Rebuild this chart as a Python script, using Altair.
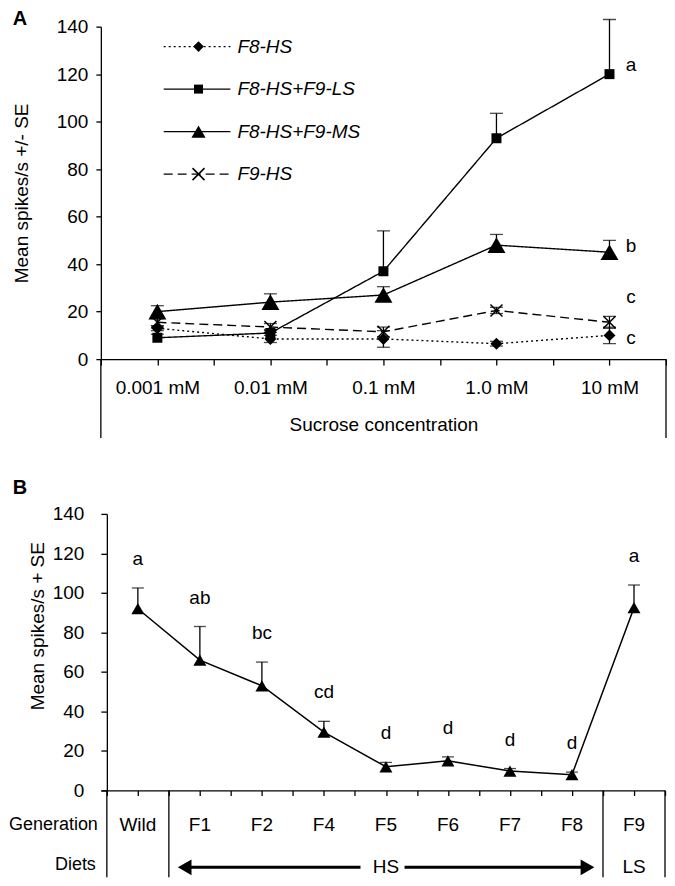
import json
import altair as alt
import pandas as pd

FONT = "Liberation Sans"
FONT_BOLD = "Liberation Sans"
FS = 19

# ---------------- Panel A data ----------------
conc_labels = ["0.001 mM", "0.01 mM", "0.1 mM", "1.0 mM", "10 mM"]
series_names = ["F8-HS", "F8-HS+F9-LS", "F8-HS+F9-MS", "F9-HS"]
f8hs_mean = [13, 8.5, 8.5, 6.5, 10]
f8hs_se = [1.0, 1.5, 3.5, 1.0, 3.5]
ls_mean = [9, 11, 37, 93, 120]
ls_se = [1.5, 1.5, 17, 10.5, 23]
ms_mean = [20, 24, 27, 48, 45]
ms_se = [2.5, 3.5, 3.5, 4.5, 5]
f9hs_mean = [15.5, 13.5, 11.5, 20.5, 15.5]
f9hs_se = [1.5, 1.5, 2.0, 1.3, 2.5]
two_sided_A = [True, False, False, True]
letters_A = ["a", "b", "c", "c"]
letters_A_y = [124, 47.5, 26, 9]

# ---------------- Panel B data ----------------
gens = ["Wild", "F1", "F2", "F4", "F5", "F6", "F7", "F8", "F9"]
mean_B = [92, 66, 53, 29.5, 12, 15, 9.8, 8, 92.5]
se_B = [10.5, 17, 12, 5.5, 2.2, 2.0, 1.3, 1.3, 11.5]
letters_B = ["a", "ab", "bc", "cd", "d", "d", "d", "d", "a"]
diets = ["", "HS", "HS", "HS", "HS", "HS", "HS", "HS", "LS"]

# ---------------- layout / style ----------------
WA, HA = 566, 333
WB, HB = 565, 277
B_SHIFT = 6  # px between B plot edge and its y axis
TABLE_H = 87

XPATH = "M-1,-1L1,1M-1,1L1,-1"
STYLE_A = {
    "F8-HS": dict(shape="diamond", filled=True, size=144, leg=115, dash=[2, 3]),
    "F8-HS+F9-LS": dict(shape="square", filled=True, size=100, leg=81, dash=[1, 0]),
    "F8-HS+F9-MS": dict(shape="triangle-up", filled=True, size=324, leg=200, dash=[1, 0]),
    "F9-HS": dict(shape=XPATH, filled=False, size=144, leg=144, dash=[9, 5]),
}

# ---------------- Panel A ----------------
rows = []
for s, m, e, ts in zip(series_names, [f8hs_mean, ls_mean, ms_mean, f9hs_mean],
                       [f8hs_se, ls_se, ms_se, f9hs_se], two_sided_A):
    for i in range(len(conc_labels)):
        rows.append({"series": s, "idx": i, "mean": m[i], "hi": m[i] + e[i],
                     "lo": m[i] - e[i] if ts else m[i], "two": ts})
dfA = pd.DataFrame(rows)

nA = len(conc_labels)
xA_scale = alt.Scale(domain=[-0.5, nA - 0.5], nice=False, zero=False)
xA_axis = alt.Axis(
    values=[-0.5 + 0.5 * k for k in range(2 * nA + 1)],
    labelExpr="datum.value % 1 === 0 ? " + json.dumps(conc_labels) + "[datum.value] : ''",
    tickSize=6, labelPadding=13, labelFlush=False, labelOverlap=False, labelBound=False,
    title="Sucrose concentration", titlePadding=18,
)
yA_scale = alt.Scale(domain=[0, 140], nice=False)
yA_axis = alt.Axis(values=list(range(0, 141, 20)), tickSize=5, labelPadding=8,
                   title="Mean spikes/s  +/- SE", titlePadding=25)


def xA(f):
    return alt.X(f + ":Q", scale=xA_scale, axis=xA_axis)


def yA(f):
    return alt.Y(f + ":Q", scale=yA_scale, axis=yA_axis)


layersA = []
for name in series_names:
    st = STYLE_A[name]
    layersA.append(
        alt.Chart(dfA).transform_filter(alt.datum.series == name)
        .mark_line(color="black", strokeWidth=1.4, strokeDash=st["dash"])
        .encode(x=xA("idx"), y=yA("mean"))
    )
layersA.append(alt.Chart(dfA).mark_rule(color="black", strokeWidth=1.3)
               .encode(x=xA("idx"), y=yA("lo"), y2=alt.Y2("hi")))
layersA.append(alt.Chart(dfA).mark_tick(color="black", orient="horizontal", size=13, thickness=1.3)
               .encode(x=xA("idx"), y=yA("hi")))
layersA.append(alt.Chart(dfA).transform_filter("datum.two")
               .mark_tick(color="black", orient="horizontal", size=13, thickness=1.3)
               .encode(x=xA("idx"), y=yA("lo")))
for name in series_names:
    st = STYLE_A[name]
    layersA.append(
        alt.Chart(dfA).transform_filter(alt.datum.series == name)
        .mark_point(shape=st["shape"], filled=st["filled"], size=st["size"], color="black",
                    opacity=1, strokeWidth=1.5)
        .encode(x=xA("idx"), y=yA("mean"))
    )

# legend (layout positions in data units)
dfLeg = pd.DataFrame({"series": series_names})
dfLeg["ly"] = [131.6 - 17.9 * i for i in range(len(series_names))]
dfLeg["lx0"] = 0.056
dfLeg["lx1"] = 0.646
dfLeg["lxm"] = 0.364
dfLeg["lxt"] = 0.708
for name in series_names:
    st = STYLE_A[name]
    base = alt.Chart(dfLeg).transform_filter(alt.datum.series == name)
    layersA.append(base.mark_rule(color="black", strokeWidth=1.4, strokeDash=st["dash"])
                   .encode(x=xA("lx0"), x2=alt.X2("lx1"), y=yA("ly")))
    layersA.append(base.mark_point(shape=st["shape"], filled=st["filled"], size=st["leg"],
                                   color="black", opacity=1, strokeWidth=1.5)
                   .encode(x=xA("lxm"), y=yA("ly")))
layersA.append(alt.Chart(dfLeg).mark_text(align="left", baseline="middle", fontStyle="italic")
               .encode(x=xA("lxt"), y=yA("ly"), text="series:N"))

# significance letters
dfLetA = pd.DataFrame({"letter": letters_A, "y": letters_A_y})
dfLetA["x"] = nA - 1 + 0.19
layersA.append(alt.Chart(dfLetA).mark_text(align="center", baseline="middle")
               .encode(x=xA("x"), y=yA("y"), text="letter:N"))

# frame lines below the x axis
dfEdgeA = pd.DataFrame({"x": [-0.5, nA - 0.5]})
layersA.append(alt.Chart(dfEdgeA).mark_rule(color="black", strokeWidth=1.3)
               .encode(x=xA("x"), y=alt.value(HA), y2=alt.value(HA + 79)))

# panel label
layersA.append(alt.Chart(pd.DataFrame({"t": ["A"]}))
               .mark_text(font=FONT_BOLD, fontSize=20, fontWeight="bold", align="center", baseline="middle")
               .encode(x=alt.value(-81), y=alt.value(-8), text="t:N"))

panelA = alt.layer(*layersA).properties(width=WA, height=HA)

# ---------------- Panel B ----------------
nB = len(gens)
dfB = pd.DataFrame({"idx": list(range(nB)), "gen": gens, "mean": mean_B,
                    "hi": [m + s for m, s in zip(mean_B, se_B)], "letter": letters_B})

px_per_unit = (WB - B_SHIFT) / nB
xB_scale = alt.Scale(domain=[-0.5 - B_SHIFT / px_per_unit, nB - 0.5], nice=False, zero=False)
xB_axis = alt.Axis(values=[-0.5 + 0.5 * k for k in range(2 * nB + 1)], labels=False,
                   tickSize=5, title="")
yB_scale = alt.Scale(domain=[0, 140], nice=False)
yB_axis = alt.Axis(values=list(range(0, 141, 20)), tickSize=6, labelPadding=17, offset=-B_SHIFT,
                   title="Mean spikes/s + SE", titlePadding=5, titleY=112)


def xB(f):
    return alt.X(f + ":Q", scale=xB_scale, axis=xB_axis)


def yB(f):
    return alt.Y(f + ":Q", scale=yB_scale, axis=yB_axis)


layersB = []
layersB.append(alt.Chart(dfB).mark_line(color="black", strokeWidth=1.5)
               .encode(x=xB("idx"), y=yB("mean")))
layersB.append(alt.Chart(dfB).mark_rule(color="black", strokeWidth=1.3)
               .encode(x=xB("idx"), y=yB("mean"), y2=alt.Y2("hi")))
layersB.append(alt.Chart(dfB).mark_tick(color="black", orient="horizontal", size=12, thickness=1.3)
               .encode(x=xB("idx"), y=yB("hi")))
layersB.append(alt.Chart(dfB).mark_point(shape="triangle-up", filled=True, size=169, color="black", opacity=1)
               .encode(x=xB("idx"), y=yB("mean")))
layersB.append(alt.Chart(dfB).mark_text(align="center", baseline="middle", dy=-29)
               .encode(x=xB("idx"), y=yB("hi"), text="letter:N"))

# table below the axis
layersB.append(alt.Chart(dfB).mark_text(align="center", baseline="middle")
               .encode(x=xB("idx"), y=alt.value(312), text="gen:N"))

bounds = [-0.5] + [i - 0.5 for i in range(1, nB) if diets[i] != diets[i - 1]] + [nB - 0.5]
layersB.append(alt.Chart(pd.DataFrame({"x": bounds})).mark_rule(color="black", strokeWidth=1.3)
               .encode(x=xB("x"), y=alt.value(HB), y2=alt.value(HB + TABLE_H)))

grp = []
for d in dict.fromkeys(x for x in diets if x):
    ids = [i for i, x in enumerate(diets) if x == d]
    grp.append({"diet": d, "lo": min(ids), "hi": max(ids), "mid": (min(ids) + max(ids)) / 2})
dfG = pd.DataFrame(grp)
layersB.append(alt.Chart(dfG).mark_text(align="center", baseline="middle")
               .encode(x=xB("mid"), y=alt.value(354), text="diet:N"))

arrow = dfG[dfG["hi"] > dfG["lo"]].copy()
arrow["a0"] = arrow["lo"] - 0.245
arrow["a1"] = arrow["mid"] - 0.41
arrow["b0"] = arrow["mid"] + 0.30
arrow["b1"] = arrow["hi"] + 0.25
layersB.append(alt.Chart(arrow).mark_rule(color="black", strokeWidth=3)
               .encode(x=xB("a0"), x2=alt.X2("a1"), y=alt.value(354)))
layersB.append(alt.Chart(arrow).mark_rule(color="black", strokeWidth=3)
               .encode(x=xB("b0"), x2=alt.X2("b1"), y=alt.value(354)))
layersB.append(alt.Chart(arrow).mark_point(shape="triangle-left", filled=True, size=250, color="black", opacity=1)
               .encode(x=xB("a0"), y=alt.value(354)))
layersB.append(alt.Chart(arrow).mark_point(shape="triangle-right", filled=True, size=250, color="black", opacity=1)
               .encode(x=xB("b1"), y=alt.value(354)))

lab = alt.Chart(pd.DataFrame({"t": ["Generation"]}))
layersB.append(lab.mark_text(align="right", baseline="middle", fontSize=18)
               .encode(x=alt.value(-3), y=alt.value(312), text="t:N"))
lab2 = alt.Chart(pd.DataFrame({"t": ["Diets"]}))
layersB.append(lab2.mark_text(align="right", baseline="middle", fontSize=18)
               .encode(x=alt.value(-5), y=alt.value(352), text="t:N"))
layersB.append(alt.Chart(pd.DataFrame({"t": ["B"]}))
               .mark_text(font=FONT_BOLD, fontSize=20, fontWeight="bold", align="center", baseline="middle")
               .encode(x=alt.value(-81), y=alt.value(-26), text="t:N"))

panelB = alt.layer(*layersB).properties(width=WB, height=HB)

chart = (
    alt.vconcat(panelA, panelB, spacing=39)
    .properties(padding=0)
    .configure_view(strokeWidth=0)
    .configure_axis(labelFont=FONT, titleFont=FONT, labelFontSize=FS, titleFontSize=FS,
                    titleFontWeight="normal", labelColor="black", titleColor="black",
                    domainColor="black", tickColor="black", domainWidth=1.3, tickWidth=1.3,
                    grid=False)
    .configure_text(font=FONT, fontSize=FS, color="black")
)

chart.save("out.html", embed_options={"renderer": "svg", "actions": False})
